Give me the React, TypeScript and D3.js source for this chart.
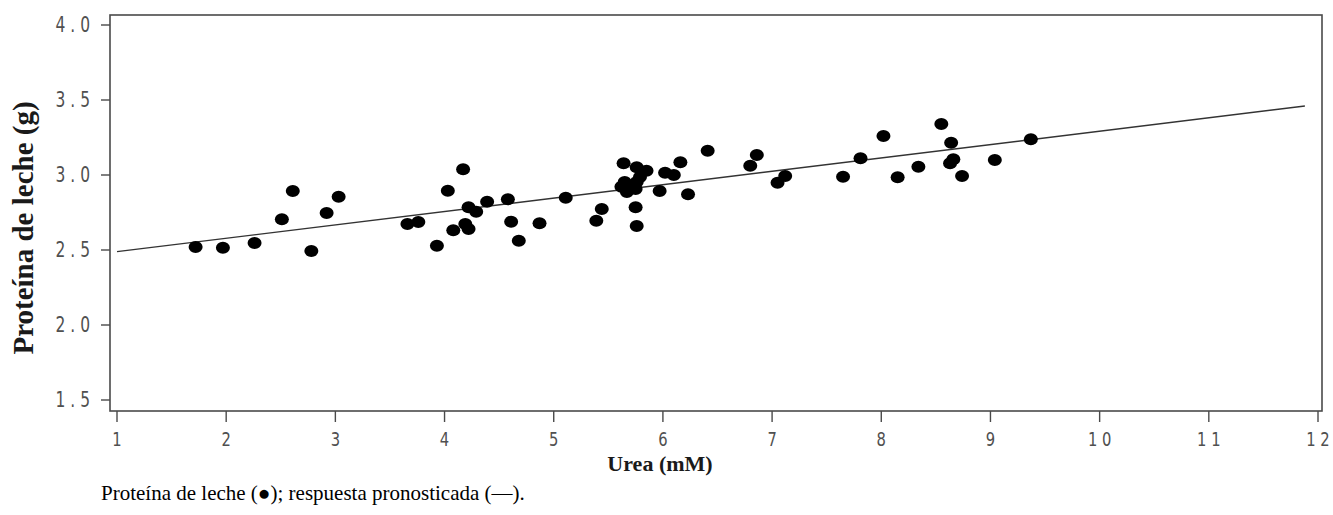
import React from "react";
import * as d3 from "d3";

// Observed urea (mM) and milk protein (g) pairs
const ureaValues: number[] = [
  1.72, 1.97, 2.26, 2.51, 2.61, 2.78, 2.92, 3.03,
  3.66, 3.76, 3.93, 4.03, 4.17, 4.08, 4.19, 4.22, 4.22, 4.29, 4.39, 4.58, 4.61, 4.68,
  4.87, 5.11, 5.39, 5.44,
  5.64, 5.76, 5.85, 5.65, 5.62, 5.70, 5.76, 5.67, 5.75, 5.79, 5.75, 5.76,
  5.97, 6.02, 6.10, 6.16, 6.23, 6.41,
  6.80, 6.86, 7.05, 7.12, 7.65, 7.81, 8.02, 8.15, 8.34, 8.55, 8.64, 8.66, 8.63, 8.74,
  9.04, 9.37,
];
const proteinValues: number[] = [
  2.52, 2.515, 2.547, 2.705, 2.893, 2.493, 2.747, 2.855,
  2.673, 2.687, 2.529, 2.895, 3.038, 2.631, 2.673, 2.64, 2.785, 2.755, 2.822, 2.838, 2.689, 2.562,
  2.678, 2.849, 2.695, 2.773,
  3.078, 3.051, 3.029, 2.953, 2.922, 2.927, 2.953, 2.887, 2.907, 2.987, 2.785, 2.66,
  2.893, 3.015, 3.0, 3.085, 2.871, 3.162,
  3.062, 3.133, 2.949, 2.993, 2.989, 3.111, 3.26, 2.985, 3.055, 3.34, 3.215, 3.105, 3.078, 2.993,
  3.1, 3.238,
];

// Predicted response (fitted line) end points
const fitUrea: number[] = [1.0, 11.88];
const fitProtein: number[] = [2.489, 3.46];

const xTicks: number[] = [1, 2, 3, 4, 5, 6, 7, 8, 9, 10, 11, 12];
const yTicks: number[] = [1.5, 2.0, 2.5, 3.0, 3.5, 4.0];

const yTitle = "Proteína de leche (g)";
const xTitle = "Urea (mM)";
const caption = "Proteína de leche (●); respuesta pronosticada (—).";

const W = 1333;
const H = 515;

const frame = { left: 110, right: 1322, top: 15, bottom: 411 };

const x = d3.scaleLinear().domain([1, 12]).range([117, 1318]);
const y = d3.scaleLinear().domain([1.5, 4.0]).range([400, 25]);

const tickFont = "'Liberation Sans Narrow', 'DejaVu Sans Condensed', 'Liberation Sans', sans-serif";
const serif = "'Liberation Serif', 'Times New Roman', serif";
const axisColor = "#4a4a4a";
const tickTextColor = "#505050";

// Spread digits apart the way the axis labels are lettered
const spaced = (s: string) => s.split("").join(" ");

export default function App() {
  const line = d3
    .line<number>()
    .x((_, i) => x(fitUrea[i]))
    .y((d) => y(d));

  return (
    <svg
      width={W}
      height={H}
      viewBox={`0 0 ${W} ${H}`}
      style={{ position: "absolute", left: 0, top: 0, background: "#fff" }}
    >
      <rect x={0} y={0} width={W} height={H} fill="#fff" />

      {/* plot frame */}
      <rect
        x={frame.left}
        y={frame.top}
        width={frame.right - frame.left}
        height={frame.bottom - frame.top}
        fill="none"
        stroke={axisColor}
        strokeWidth={1.6}
      />

      {/* y axis ticks and labels */}
      {yTicks.map((t) => (
        <g key={`y${t}`}>
          <line
            x1={frame.left - 9}
            x2={frame.left}
            y1={y(t)}
            y2={y(t)}
            stroke={axisColor}
            strokeWidth={1.4}
          />
          <g transform={`translate(90, ${y(t) + 7}) scale(0.82, 1)`}>
            <text
              textAnchor="end"
              fontFamily={tickFont}
              fontSize={21}
              fill={tickTextColor}
            >
              {spaced(t.toFixed(1))}
            </text>
          </g>
        </g>
      ))}

      {/* x axis ticks and labels */}
      {xTicks.map((t) => (
        <g key={`x${t}`}>
          <line
            x1={x(t)}
            x2={x(t)}
            y1={frame.bottom}
            y2={frame.bottom + 11}
            stroke={axisColor}
            strokeWidth={1.4}
          />
          <g transform={`translate(${x(t)}, 446) scale(0.82, 1)`}>
            <text
              textAnchor="middle"
              fontFamily={tickFont}
              fontSize={20}
              fill={tickTextColor}
            >
              {spaced(String(t))}
            </text>
          </g>
        </g>
      ))}

      {/* fitted response */}
      <path
        d={line(fitProtein) || ""}
        fill="none"
        stroke="#333"
        strokeWidth={1.4}
      />

      {/* observations */}
      {ureaValues.map((u, i) => (
        <ellipse
          key={`p${i}`}
          cx={x(u)}
          cy={y(proteinValues[i])}
          rx={7}
          ry={6}
          fill="#000"
        />
      ))}

      {/* axis titles */}
      <text
        transform="translate(33, 228) rotate(-90)"
        textAnchor="middle"
        fontFamily={serif}
        fontWeight="bold"
        fontSize={29}
        fill="#1a1a1a"
      >
        {yTitle}
      </text>
      <text
        x={660}
        y={471}
        textAnchor="middle"
        fontFamily={serif}
        fontWeight="bold"
        fontSize={22}
        fill="#1a1a1a"
      >
        {xTitle}
      </text>

      {/* caption */}
      <text
        x={101}
        y={500}
        fontFamily={serif}
        fontSize={21}
        fill="#000"
      >
        {caption}
      </text>
    </svg>
  );
}
